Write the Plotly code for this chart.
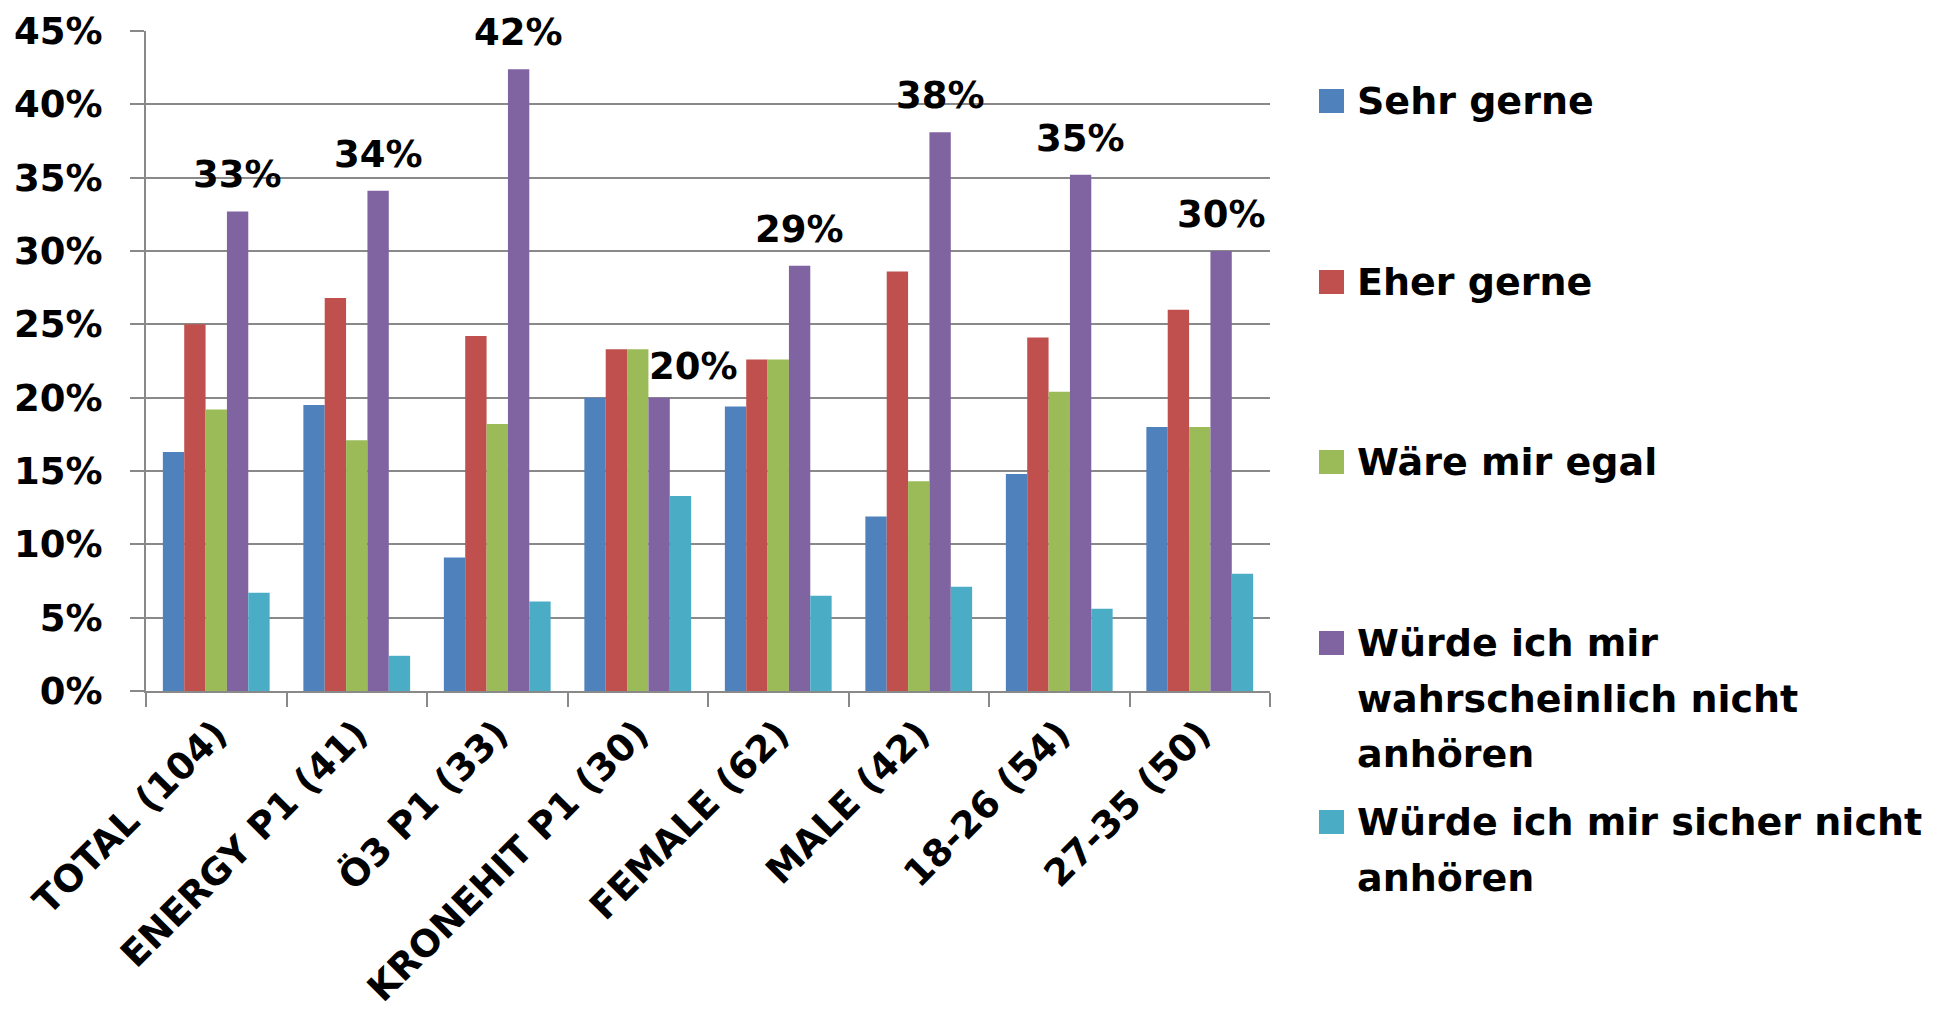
import plotly.graph_objects as go

# Survey answers per audience group (share of respondents, %)
categories = [
    "TOTAL (104)", "ENERGY P1 (41)", "Ö3 P1 (33)", "KRONEHIT P1 (30)",
    "FEMALE (62)", "MALE (42)", "18-26 (54)", "27-35 (50)",
]
sehr_gerne = [16.3, 19.5, 9.1, 20.0, 19.4, 11.9, 14.8, 18.0]
eher_gerne = [25.0, 26.8, 24.2, 23.3, 22.6, 28.6, 24.1, 26.0]
waere_egal = [19.2, 17.1, 18.2, 23.3, 22.6, 14.3, 20.4, 18.0]
wahrscheinlich_nicht = [32.7, 34.1, 42.4, 20.0, 29.0, 38.1, 35.2, 30.0]
sicher_nicht = [6.7, 2.4, 6.1, 13.3, 6.5, 7.1, 5.6, 8.0]

series_names = [
    "Sehr gerne",
    "Eher gerne",
    "Wäre mir egal",
    "Würde ich mir wahrscheinlich nicht anhören",
    "Würde ich mir sicher nicht anhören",
]
# how each legend entry wraps
legend_lines = [
    ["Sehr gerne"],
    ["Eher gerne"],
    ["Wäre mir egal"],
    ["Würde ich mir", "wahrscheinlich nicht", "anhören"],
    ["Würde ich mir sicher nicht", "anhören"],
]
series_values = [sehr_gerne, eher_gerne, waere_egal, wahrscheinlich_nicht, sicher_nicht]
y_ticks = [0, 5, 10, 15, 20, 25, 30, 35, 40, 45]
y_tick_labels = [f"{t}%" for t in y_ticks]

colors = ["#4F81BD", "#C0504D", "#9BBB59", "#8064A2", "#4BACC6"]
FONT = "DejaVu Sans"
GRID = "#898989"

W, H = 1939, 1015
PLOT_L, PLOT_R, PLOT_T, PLOT_B = 146, 1270, 31, 691
BARGAP = 0.24

fig = go.Figure()
for name, vals, col in zip(series_names, series_values, colors):
    fig.add_trace(go.Bar(
        x=categories, y=vals, name=name,
        marker=dict(color=col, line=dict(width=0)),
        showlegend=False,
    ))


def px_x(px):
    return (px - PLOT_L) / (PLOT_R - PLOT_L)


def px_y(py):
    return (PLOT_B - py) / (PLOT_B - PLOT_T)


# value labels above the "wahrscheinlich nicht" bars
bar_w = (1 - BARGAP) / len(series_names)
purple_offset = bar_w * 1
annotations = []
for i, (cat, v) in enumerate(zip(categories, wahrscheinlich_nicht)):
    shift = 34 if cat.startswith("KRONEHIT") else 0
    yshift = 8 if cat.startswith("KRONEHIT") else 13
    annotations.append(dict(
        x=i + purple_offset, y=v, xref="x", yref="y",
        text=f"{v:.0f}%", showarrow=False,
        xanchor="center", yanchor="bottom", xshift=shift, yshift=yshift,
        font=dict(family=FONT, size=37, color="black", weight="bold"),
    ))

# legend drawn at the right of the plot
legend_rows = [101, 282, 462, 643, 822]
line_step = 55.5
shapes = []
for lines, col, row in zip(legend_lines, colors, legend_rows):
    shapes.append(dict(
        type="rect", xref="paper", yref="paper",
        x0=px_x(1319), x1=px_x(1344), y0=px_y(row + 12), y1=px_y(row - 12),
        fillcolor=col, line=dict(width=0),
    ))
    for k, line in enumerate(lines):
        annotations.append(dict(
            x=px_x(1355), y=px_y(row + k * line_step), xref="paper", yref="paper",
            text=line, showarrow=False, xanchor="left", yanchor="middle",
            font=dict(family=FONT, size=38, color="black", weight="bold"),
        ))

fig.update_layout(
    width=W, height=H,
    margin=dict(l=PLOT_L, r=W - PLOT_R, t=PLOT_T, b=H - PLOT_B, pad=0),
    paper_bgcolor="white", plot_bgcolor="white",
    barmode="group", bargap=BARGAP, bargroupgap=0,
    annotations=annotations, shapes=shapes,
    font=dict(family=FONT, color="black"),
)
fig.update_xaxes(
    type="category", tickangle=-45, tickson="boundaries", automargin=False,
    ticks="outside", ticklen=14, tickwidth=2, tickcolor=GRID,
    showline=True, linecolor=GRID, linewidth=2, showgrid=False,
    ticklabelstandoff=4,
    tickfont=dict(family=FONT, size=37, color="black", weight="bold"),
)
fig.update_yaxes(
    range=[0, 45], tickmode="array", tickvals=y_ticks, ticktext=y_tick_labels,
    automargin=False,
    ticks="outside", ticklen=14, tickwidth=2, tickcolor=GRID,
    showline=True, linecolor=GRID, linewidth=2,
    showgrid=True, gridcolor=GRID, gridwidth=2, zeroline=False,
    ticklabelstandoff=20,
    tickfont=dict(family=FONT, size=37, color="black", weight="bold"),
)

fig.write_html("out.html")
